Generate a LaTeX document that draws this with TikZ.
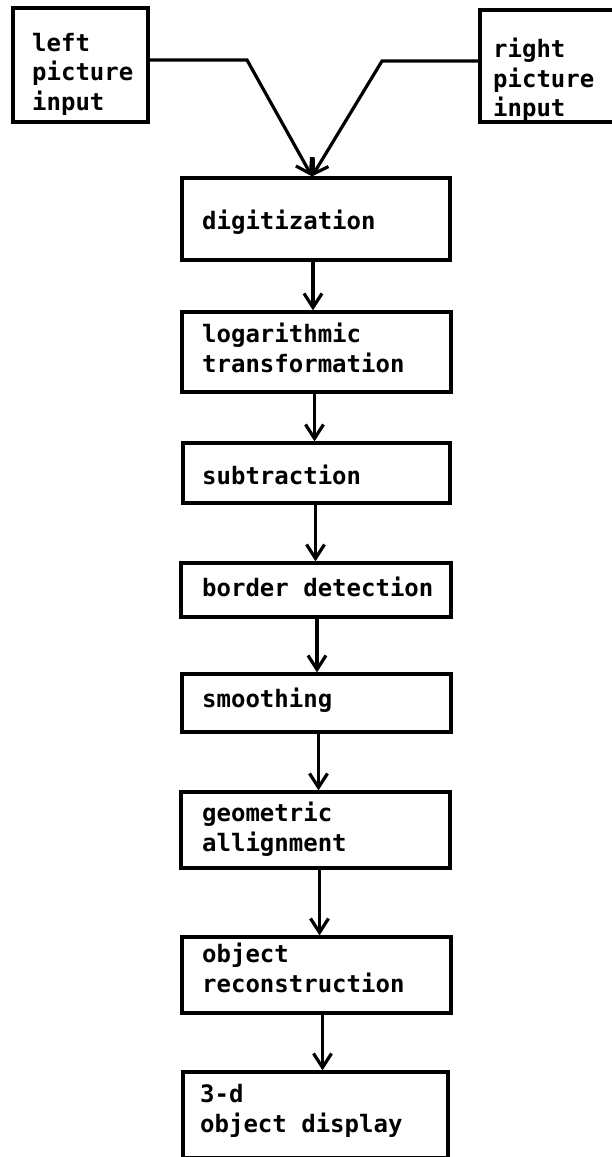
\documentclass[tikz,border=0pt]{standalone}
\usepackage{fontspec}
\newfontfamily\boxfont{DejaVu Sans Mono}
\usetikzlibrary{arrows.meta}
\begin{document}
\begin{tikzpicture}[x=1pt,y=-1pt,
  stagebox/.style={draw=black, line width=3.2pt, rectangle, inner sep=0pt},
  lbl/.style={anchor=west, align=left, inner sep=0pt, font=\boxfont\bfseries\fontsize{24}{29.5}\selectfont},
  conn/.style={draw=black, line width=3.2pt, -{Straight Barb[length=14pt,width=18pt,line width=3.2pt]}},
  plain/.style={draw=black, line width=3.2pt}]
\useasboundingbox (0,0) rectangle (611,1157);
% boxes
\node[stagebox, minimum width=135pt, minimum height=114pt] (lin) at (80.5,65) {};
\node[stagebox, minimum width=160pt, minimum height=112pt] (rin) at (560,66) {};
\node[stagebox, minimum width=268pt, minimum height=82pt] (dig) at (316,219) {};
\node[stagebox, minimum width=269pt, minimum height=80pt] (log) at (316.5,352) {};
\node[stagebox, minimum width=267pt, minimum height=60pt] (sub) at (316.5,473) {};
\node[stagebox, minimum width=270pt, minimum height=54pt] (bor) at (316,590) {};
\node[stagebox, minimum width=269pt, minimum height=58pt] (smo) at (316.5,703) {};
\node[stagebox, minimum width=269pt, minimum height=76pt] (geo) at (315.5,830) {};
\node[stagebox, minimum width=269pt, minimum height=76pt] (obj) at (316.5,975) {};
\node[stagebox, minimum width=265pt, minimum height=86pt] (thr) at (315.5,1115) {};
% texts
\node[lbl] (tlin) at (32,74) {left\\picture\\input};
\node[lbl] (trin) at (493,80) {right\\picture\\input};
\node[lbl] (tdig) at (202,222) {digitization};
\node[lbl] (tlog) at (202,348) {logarithmic\\transformation};
\node[lbl] (tsub) at (202,475) {subtraction};
\node[lbl] (tbor) at (202,587) {border detection};
\node[lbl] (tsmo) at (202,700) {smoothing};
\node[lbl] (tgeo) at (202,829) {geometric\\allignment};
\node[lbl] (tobj) at (202,968) {object\\reconstruction};
\node[lbl] (tthr) at (200,1111) {3-d\\object display};
% top connectors
\coordinate (lbend) at (247,60);
\coordinate (rbend) at (382,61);
\draw[conn] (lin.east |- lbend) -- (lbend) -- ([xshift=-4pt]dig.north);
\draw[conn] (rin.west |- rbend) -- (rbend) -- ([xshift=-4pt]dig.north);
% vertical connectors
\draw[conn] ([xshift=-3pt]dig.south) -- ([xshift=-3pt]dig.south |- log.north);
\draw[conn] ([xshift=-2pt]log.south) -- ([xshift=-2pt]log.south |- sub.north);
\draw[conn] ([xshift=-1pt]sub.south) -- ([xshift=-1pt]sub.south |- bor.north);
\draw[conn] ([xshift=1pt]bor.south) -- ([xshift=1pt]bor.south |- smo.north);
\draw[conn] ([xshift=2pt]smo.south) -- ([xshift=2pt]smo.south |- geo.north);
\draw[conn] ([xshift=4pt]geo.south) -- ([xshift=4pt]geo.south |- obj.north);
\draw[conn] ([xshift=6pt]obj.south) -- ([xshift=6pt]obj.south |- thr.north);
\end{tikzpicture}
\end{document}
